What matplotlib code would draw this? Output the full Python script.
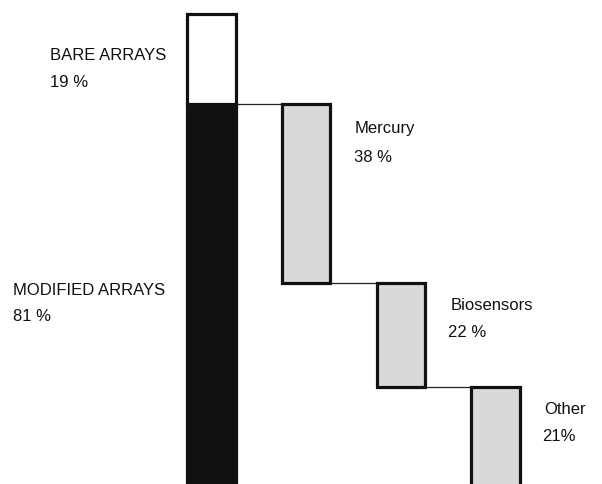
import matplotlib
matplotlib.use("Agg")
import matplotlib.pyplot as plt

# Data
total_parts = ["BARE ARRAYS", "MODIFIED ARRAYS"]
total_values = [19, 81]
categories = ["Mercury", "Biosensors", "Other"]
cat_values = [38, 22, 21]
cat_value_labels = ["38 %", "22 %", "21%"]
total_value_labels = ["19 %", "81 %"]

W, H = 602, 485
fig = plt.figure(figsize=(W / 100, H / 100), dpi=100)
ax = fig.add_axes([0, 0, 1, 1])
ax.set_axis_off()

bar_w = 0.51
lw = 2.3
edge = "#111111"

# Left stacked bar
ax.bar(0, total_values[1], bottom=0, width=bar_w, color="#111111",
       edgecolor=edge, linewidth=lw, zorder=3)
ax.bar(0, total_values[0], bottom=total_values[1], width=bar_w, color="white",
       edgecolor=edge, linewidth=lw, zorder=3)

# Waterfall bars
level = total_values[1]
prev_x = 0
for i, v in enumerate(cat_values, start=1):
    ax.plot([prev_x + bar_w / 2, i - bar_w / 2], [level, level],
            color="#222222", linewidth=0.9, zorder=2)
    ax.bar(i, v, bottom=level - v, width=bar_w, color="#d9d9d9",
           edgecolor=edge, linewidth=lw, zorder=3)
    level -= v
    prev_x = i

scale = 94.7  # px per category unit
x0 = 211.5
ax.set_xlim(-x0 / scale, (W - x0) / scale)
ax.set_ylim(0.5, 103.2)

font = dict(family=["Liberation Sans", "DejaVu Sans"], fontsize=12, color="#111111")

def ftext(x, y, s):
    fig.text(x / W, 1 - y / H, s, ha="left", va="baseline", **font)

ftext(50, 60, total_parts[0])
ftext(50, 87, total_value_labels[0])
ftext(13, 295, total_parts[1])
ftext(13, 321, total_value_labels[1])
ftext(355, 133, categories[0])
ftext(354, 162, cat_value_labels[0])
ftext(451, 310, categories[1])
ftext(448, 337, cat_value_labels[1])
ftext(544, 414, categories[2])
ftext(542, 441, cat_value_labels[2])

fig.savefig("out.png", dpi=100)
